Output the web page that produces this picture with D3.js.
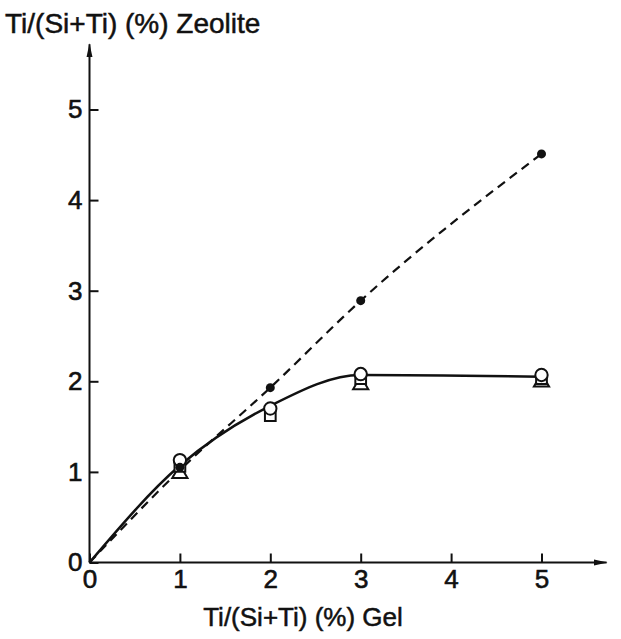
<!DOCTYPE html>
<html>
<head>
<meta charset="utf-8">
<script src="https://cdn.jsdelivr.net/npm/d3@7"></script>
<style>
  body { margin: 0; background: #fff; }
  svg text { font-family: 'Liberation Sans', Arial, sans-serif; fill: #111; }
</style>
</head>
<body>
<div id="chart"></div>
<script>
// values
const gelTi = [1, 2, 3, 5];
const seriesCircle = [1.13, 1.70, 2.08, 2.07];
const seriesSquare = [1.06, 1.62, 2.03, 2.03];
const triX = [1, 3, 5];
const seriesTriangle = [0.98, 1.96, 1.99];
const dotX = [1, 2, 3, 5];
const seriesDot = [1.05, 1.93, 2.89, 4.51];
// drawn curves (fits through the points)
const fitX = [0, 1, 2, 3, 5];
const solidFit = [0, 1.07, 1.73, 2.07, 2.05];
const dashedFit = [0, 1.02, 1.93, 2.89, 4.51];
const xTicks = [0, 1, 2, 3, 4, 5];
const yTicks = [0, 1, 2, 3, 4, 5];

const width = 621, height = 639;
const margin = { top: 109.5, left: 89.5 };

const svg = d3.select('#chart').append('svg')
  .attr('width', width).attr('height', height);
svg.append('rect').attr('width', width).attr('height', height).attr('fill', '#fff');

const x = d3.scaleLinear().domain([0, 5]).range([margin.left, 541.5]);
const y = d3.scaleLinear().domain([0, 5]).range([562.5, margin.top]);

// axes with arrows
const defs = svg.append('defs');
defs.append('marker')
  .attr('id', 'arrow')
  .attr('viewBox', '0 0 14 8')
  .attr('refX', 13).attr('refY', 4)
  .attr('markerWidth', 14).attr('markerHeight', 8)
  .attr('markerUnits', 'userSpaceOnUse')
  .attr('orient', 'auto')
  .append('path').attr('d', 'M0,1 L14,4 L0,7 Z').attr('fill', '#111');

svg.append('line')
  .attr('x1', x(0)).attr('y1', y(0)).attr('x2', x(5.72)).attr('y2', y(0))
  .attr('stroke', '#111').attr('stroke-width', 2)
  .attr('marker-end', 'url(#arrow)');
svg.append('line')
  .attr('x1', x(0)).attr('y1', y(0)).attr('x2', x(0)).attr('y2', y(5.72))
  .attr('stroke', '#111').attr('stroke-width', 2)
  .attr('marker-end', 'url(#arrow)');

svg.append('g')
  .attr('transform', `translate(0, ${y(0)})`)
  .call(d3.axisBottom(x).tickValues(xTicks).tickSize(-9).tickPadding(7).tickFormat(d3.format('d')));
svg.append('g')
  .attr('transform', `translate(${x(0)}, 0)`)
  .call(d3.axisLeft(y).tickValues(yTicks).tickSize(-9).tickPadding(7).tickFormat(d3.format('d')));

svg.selectAll('.domain').remove();
svg.selectAll('.tick line').attr('stroke', '#111').attr('stroke-width', 2);
svg.selectAll('.tick text')
  .attr('font-size', 26)
  .attr('font-family', "'Liberation Sans', Arial, sans-serif")
  .attr('fill', '#111')
  .attr('stroke', '#111').attr('stroke-width', 0.6);

// axis titles
svg.append('text')
  .attr('x', 5).attr('y', 33)
  .attr('font-size', 28)
  .attr('stroke', '#111').attr('stroke-width', 0.5)
  .text('Ti/(Si+Ti) (%) Zeolite');
svg.append('text')
  .attr('x', 303).attr('y', 626)
  .attr('text-anchor', 'middle')
  .attr('font-size', 26)
  .attr('stroke', '#111').attr('stroke-width', 0.5)
  .text('Ti/(Si+Ti) (%) Gel');

// curves
const lineGen = d3.line()
  .x((d, i) => x(fitX[i]))
  .y(d => y(d))
  .curve(d3.curveMonotoneX);

svg.append('path')
  .attr('d', lineGen(dashedFit))
  .attr('fill', 'none').attr('stroke', '#111')
  .attr('stroke-width', 2.2)
  .attr('stroke-dasharray', '9,6');

svg.append('path')
  .attr('d', lineGen(solidFit))
  .attr('fill', 'none').attr('stroke', '#111')
  .attr('stroke-width', 2.5);

// markers
const sym = (type, size) => d3.symbol().type(type).size(size)();

svg.append('g').selectAll('path')
  .data(seriesTriangle)
  .join('path')
  .attr('transform', (d, i) => `translate(${x(triX[i])}, ${y(d)})`)
  .attr('d', sym(d3.symbolTriangle, 100))
  .attr('fill', '#fff').attr('stroke', '#111').attr('stroke-width', 2);

svg.append('g').selectAll('path')
  .data(seriesSquare)
  .join('path')
  .attr('transform', (d, i) => `translate(${x(gelTi[i])}, ${y(d)})`)
  .attr('d', sym(d3.symbolSquare, 115))
  .attr('fill', '#fff').attr('stroke', '#111').attr('stroke-width', 2);

svg.append('g').selectAll('path')
  .data(seriesCircle)
  .join('path')
  .attr('transform', (d, i) => `translate(${x(gelTi[i])}, ${y(d)})`)
  .attr('d', sym(d3.symbolCircle, 120))
  .attr('fill', '#fff').attr('stroke', '#111').attr('stroke-width', 2);

svg.append('g').selectAll('circle')
  .data(seriesDot)
  .join('circle')
  .attr('cx', (d, i) => x(dotX[i]))
  .attr('cy', d => y(d))
  .attr('r', 4.5)
  .attr('fill', '#111');
</script>
</body>
</html>
